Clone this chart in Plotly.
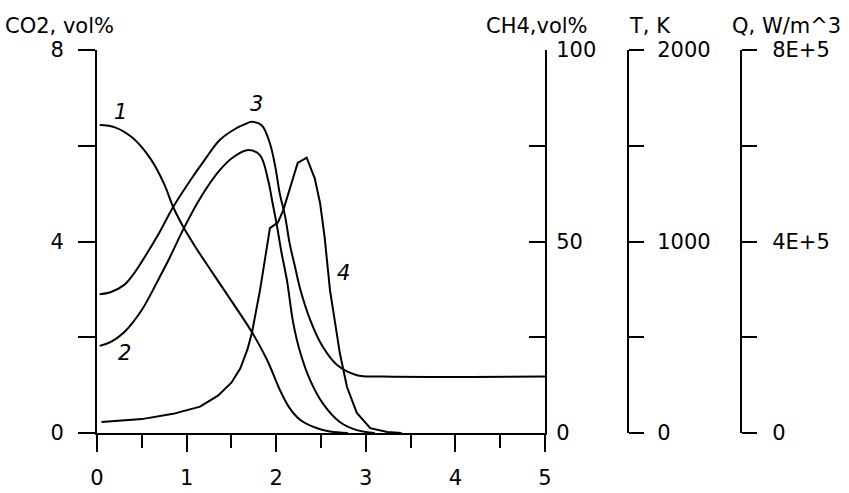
import plotly.graph_objects as go

# ---- data ----
# curve 1 : CH4, vol%
x1 = [0.03, 0.2, 0.4, 0.6, 0.75, 0.85, 0.97, 1.1, 1.29, 1.5, 1.73, 1.9, 2.04, 2.15, 2.27, 2.45, 2.6, 2.8]
ch4 = [80.4, 79.8, 77.0, 71.5, 65.0, 59.0, 53.5, 48.5, 41.8, 34.5, 26.3, 19.0, 11.3, 6.5, 3.4, 1.3, 0.4, 0.0]

# curve 2 : CO2, vol%
x2 = [0.03, 0.15, 0.3, 0.5, 0.7, 0.8, 0.97, 1.15, 1.37, 1.52, 1.69, 1.82, 1.91, 1.96, 2.01, 2.06,
      2.12, 2.19, 2.27, 2.38, 2.52, 2.71, 2.9, 3.1]
co2 = [1.82, 1.9, 2.1, 2.57, 3.26, 3.62, 4.28, 4.9, 5.49, 5.76, 5.91, 5.8, 5.28, 4.8, 4.31, 3.76,
       3.19, 2.3, 1.67, 1.1, 0.62, 0.23, 0.06, 0.0]

# curve 3 : T, K
x3 = [0.03, 0.15, 0.3, 0.4, 0.5, 0.7, 0.85, 1.05, 1.2, 1.37, 1.55, 1.65, 1.73, 1.84, 1.93, 1.99,
      2.04, 2.10, 2.15, 2.21, 2.27, 2.38, 2.52, 2.68, 2.9, 3.2, 5.0]
temp = [725, 735, 772, 825, 895, 1050, 1180, 1325, 1425, 1530, 1590, 1612, 1625, 1606, 1512, 1390,
        1250, 1130, 990, 868, 748, 590, 450, 355, 302, 295, 295]

# curve 4 : Q, W/m^3
x4 = [0.05, 0.5, 0.85, 1.15, 1.35, 1.5, 1.6, 1.68, 1.73, 1.82, 1.93, 2.02, 2.08, 2.15, 2.24, 2.34,
      2.43, 2.49, 2.54, 2.6, 2.66, 2.71, 2.79, 2.9, 3.05, 3.24, 3.4]
q = [0.23e5, 0.29e5, 0.40e5, 0.55e5, 0.78e5, 1.05e5, 1.35e5, 1.75e5, 2.1e5, 2.99e5, 4.28e5, 4.4e5,
     4.66e5, 5.07e5, 5.64e5, 5.75e5, 5.32e5, 4.8e5, 4.1e5, 2.99e5, 2.3e5, 1.67e5, 0.96e5, 0.42e5,
     0.1e5, 0.02e5, 0.0]

x_ticks = [0, 1, 2, 3, 4, 5]
co2_ticks = [0, 2, 4, 6, 8]
co2_text = ["0", "", "4", "", "8"]
ch4_ticks = [0, 25, 50, 75, 100]
ch4_text = ["0", "", "50", "", "100"]
t_ticks = [0, 500, 1000, 1500, 2000]
t_text = ["0", "", "1000", "", "2000"]
q_ticks = [0, 2e5, 4e5, 6e5, 8e5]
q_text = ["0", "", "4E+5", "", "8E+5"]

curve_labels = ["1", "2", "3", "4"]
label_x = [0.257, 0.31, 1.775, 2.75]
label_y = [6.70, 1.67, 6.87, 3.34]

# ---- layout geometry (pixels) ----
W, H = 849, 493
ML, MR, MT, MB = 97, 10, 50, 60
PW = W - ML - MR
PH = H - MT - MB
def px(x):
    return (x - ML) / PW
def py(y):
    return (H - MB - y) / PH

FONT = "DejaVu Sans"
FS = 21
line_style = dict(color="black", width=2)

fig = go.Figure()
fig.add_trace(go.Scatter(x=x1, y=ch4, yaxis="y2", mode="lines", line=dict(shape="spline", **line_style)))
fig.add_trace(go.Scatter(x=x2, y=co2, yaxis="y", mode="lines", line=dict(shape="spline", **line_style)))
fig.add_trace(go.Scatter(x=x3, y=temp, yaxis="y3", mode="lines", line=dict(shape="spline", smoothing=1.0, **line_style)))
fig.add_trace(go.Scatter(x=x4, y=q, yaxis="y4", mode="lines", line=dict(shape="linear", **line_style)))

common = dict(showgrid=False, zeroline=False, showline=True, linecolor="black", linewidth=2,
              tickcolor="black", tickwidth=2, automargin=False,
              tickfont=dict(family=FONT, size=FS, color="black"))

fig.update_layout(
    width=W, height=H,
    margin=dict(l=ML, r=MR, t=MT, b=MB, autoexpand=False),
    paper_bgcolor="white", plot_bgcolor="white",
    showlegend=False,
    font=dict(family=FONT, size=FS, color="black"),
    xaxis=dict(domain=[0, px(545)], range=[0, 5], tickvals=x_ticks, ticks="outside", ticklen=17,
               minor=dict(dtick=0.5, ticks="outside", ticklen=13, tickwidth=2, tickcolor="black"),
               ticklabelstandoff=8, **common),
    yaxis=dict(range=[0, 8], tickvals=co2_ticks, ticktext=co2_text, ticks="outside", ticklen=17,
               ticklabelstandoff=10, **common),
    yaxis2=dict(range=[0, 100], overlaying="y", side="right", anchor="x", tickvals=ch4_ticks,
                ticktext=ch4_text, ticks="inside", ticklen=16, ticklabelstandoff=5, **common),
    yaxis3=dict(range=[0, 2000], overlaying="y", side="right", anchor="free", position=px(628),
                tickvals=t_ticks, ticktext=t_text, ticks="outside", ticklen=15, ticklabelstandoff=9,
                **common),
    yaxis4=dict(range=[0, 8e5], overlaying="y", side="right", anchor="free", position=px(741),
                tickvals=q_ticks, ticktext=q_text, ticks="outside", ticklen=15, ticklabelstandoff=11,
                **common),
)

titles = [("CO2, vol%", 3), ("CH4,vol%", 484), ("T, K", 627), ("Q, W/m^3", 730)]
for txt, xl in titles:
    fig.add_annotation(text=txt, xref="paper", yref="paper", x=px(xl), y=py(26),
                       xanchor="left", yanchor="middle", showarrow=False,
                       font=dict(family=FONT, size=FS, color="black"))

for t, lx, ly in zip(curve_labels, label_x, label_y):
    fig.add_annotation(text="<i>" + t + "</i>", xref="x", yref="y", x=lx, y=ly,
                       xanchor="center", yanchor="middle", showarrow=False,
                       font=dict(family=FONT, size=FS, color="black"))

fig.write_html("out.html")
